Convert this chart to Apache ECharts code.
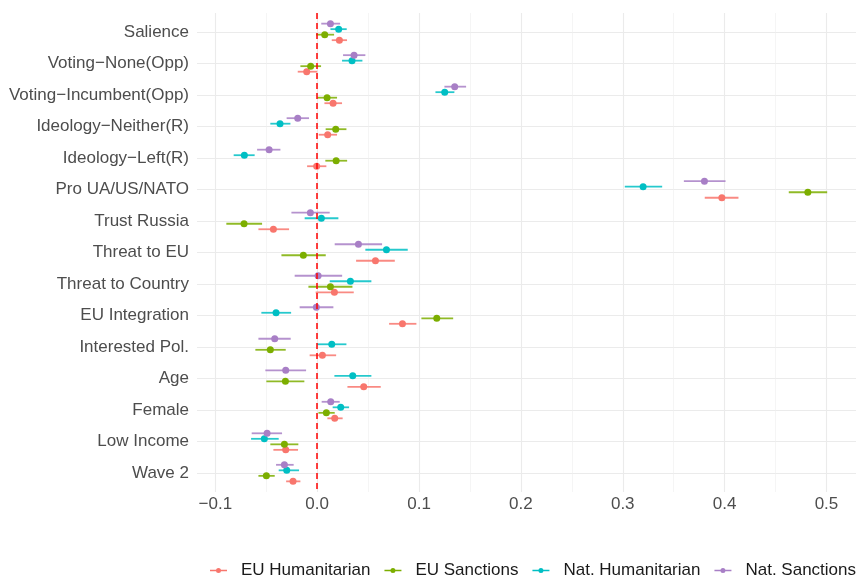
<!DOCTYPE html>
<html>
<head>
<meta charset="utf-8">
<script src="https://cdn.jsdelivr.net/npm/echarts@6/dist/echarts.min.js"></script>
<style>
html,body{margin:0;padding:0;background:#fff;}
#chart{width:859px;height:578px;}
</style>
</head>
<body>
<div id="chart"></div>
<script>
const categories = ['Salience','Voting\u2212None(Opp)','Voting\u2212Incumbent(Opp)','Ideology\u2212Neither(R)','Ideology\u2212Left(R)','Pro UA/US/NATO','Trust Russia','Threat to EU','Threat to Country','EU Integration','Interested Pol.','Age','Female','Low Income','Wave 2'];

const seriesNames = ['EU Humanitarian','EU Sanctions','Nat. Humanitarian','Nat. Sanctions'];
const seriesColors = ['#F8766D','#7CAE00','#00BFC4','#A87FC6'];

const euHumEst = [0.0218,-0.0103,0.0156,0.0103,-0.0005,0.3973,-0.0430,0.0572,0.0169,0.0837,0.0051,0.0457,0.0172,-0.0309,-0.0237];
const euHumLo  = [0.0143,-0.0191,0.0071,0.0015,-0.0099,0.3805,-0.0577,0.0382,-0.0015,0.0706,-0.0074,0.0297,0.0100,-0.0430,-0.0305];
const euHumHi  = [0.0293,0.0000,0.0244,0.0195,0.0090,0.4136,-0.0276,0.0762,0.0359,0.0974,0.0186,0.0624,0.0250,-0.0188,-0.0165];

const euSanEst = [0.0074,-0.0064,0.0097,0.0182,0.0186,0.4817,-0.0718,-0.0136,0.0130,0.1174,-0.0460,-0.0312,0.0090,-0.0322,-0.0499];
const euSanLo  = [-0.0010,-0.0165,0.0000,0.0083,0.0080,0.4630,-0.0892,-0.0351,-0.0086,0.1023,-0.0607,-0.0499,0.0012,-0.0460,-0.0577];
const euSanHi  = [0.0166,0.0038,0.0195,0.0287,0.0294,0.5007,-0.0541,0.0084,0.0346,0.1335,-0.0309,-0.0126,0.0172,-0.0185,-0.0417];

const natHumEst = [0.0211,0.0342,0.1252,-0.0365,-0.0715,0.3200,0.0041,0.0680,0.0326,-0.0404,0.0143,0.0349,0.0231,-0.0519,-0.0299];
const natHumLo  = [0.0130,0.0244,0.1161,-0.0460,-0.0820,0.3020,-0.0123,0.0473,0.0123,-0.0548,0.0000,0.0169,0.0152,-0.0649,-0.0378];
const natHumHi  = [0.0290,0.0444,0.1347,-0.0263,-0.0614,0.3387,0.0208,0.0889,0.0532,-0.0256,0.0287,0.0532,0.0313,-0.0378,-0.0178];

const natSanEst = [0.0130,0.0362,0.1350,-0.0191,-0.0472,0.3802,-0.0067,0.0405,0.0009,-0.0008,-0.0417,-0.0309,0.0133,-0.0492,-0.0322];
const natSanLo  = [0.0040,0.0254,0.1249,-0.0300,-0.0590,0.3600,-0.0253,0.0172,-0.0221,-0.0172,-0.0577,-0.0509,0.0044,-0.0643,-0.0404];
const natSanHi  = [0.0225,0.0473,0.1462,-0.0080,-0.0361,0.4009,0.0123,0.0637,0.0245,0.0159,-0.0260,-0.0109,0.0221,-0.0345,-0.0231];

const xTickValues = [-0.1,0,0.1,0.2,0.3,0.4,0.5];

const ests = [euHumEst, euSanEst, natHumEst, natSanEst];
const los = [euHumLo, euSanLo, natHumLo, natSanLo];
const his = [euHumHi, euSanHi, natHumHi, natSanHi];
const dodge = [0.2625, 0.0875, -0.0875, -0.2625];

const FONT = 'Liberation Sans, Arial, sans-serif';
const catTicks = categories.map((c, i) => i);

const chart = echarts.init(document.getElementById('chart'), null, {renderer: 'canvas'});

const series = seriesNames.map((name, s) => ({
  name: name,
  type: 'custom',
  coordinateSystem: 'cartesian2d',
  encode: {x: [1, 2, 3], y: 0},
  data: categories.map((c, i) => [i + dodge[s], ests[s][i], los[s][i], his[s][i]]),
  itemStyle: {color: seriesColors[s]},
  renderItem: function (params, api) {
    const y = api.value(0);
    const pEst = api.coord([api.value(1), y]);
    const pLo = api.coord([api.value(2), y]);
    const pHi = api.coord([api.value(3), y]);
    return {
      type: 'group',
      children: [
        {type: 'line', shape: {x1: pLo[0], y1: pLo[1], x2: pHi[0], y2: pHi[1]},
         style: {stroke: seriesColors[s], lineWidth: 1.8, opacity: 0.85}},
        {type: 'circle', shape: {cx: pEst[0], cy: pEst[1], r: 3.5},
         style: {fill: seriesColors[s]}}
      ]
    };
  },
  z: 3
}));

series.push({
  name: 'zero',
  type: 'line',
  data: [],
  markLine: {
    silent: true,
    symbol: ['none', 'none'],
    label: {show: false},
    lineStyle: {color: '#FF0000', type: [6, 4], width: 1.5},
    data: [{xAxis: 0}]
  },
  z: 4
});

const legendIcon = 'path://M0,2.3H17V3.7H0Z M11,3A2.5,2.5,0,1,1,6,3A2.5,2.5,0,1,1,11,3Z';

chart.setOption({
  animation: false,
  backgroundColor: '#ffffff',
  grid: {left: 197, right: 3, top: 13, bottom: 86, containLabel: false},
  xAxis: {
    type: 'value',
    min: -0.118,
    max: 0.529,
    axisLine: {show: false},
    axisTick: {show: false, customValues: xTickValues},
    axisLabel: {
      customValues: xTickValues,
      margin: 4,
      color: '#4D4D4D',
      fontSize: 17,
      fontFamily: FONT,
      formatter: function (v) {
        const r = Math.round(v * 10) / 10;
        return (r < 0 ? '\u2212' : '') + Math.abs(r).toFixed(1);
      }
    },
    splitLine: {show: true, lineStyle: {color: '#EBEBEB', width: 1.1}},
    minorTick: {show: false, splitNumber: 2},
    minorSplitLine: {show: true, lineStyle: {color: '#EFEFEF', width: 0.6}}
  },
  yAxis: {
    type: 'value',
    inverse: true,
    min: -0.6,
    max: 14.6,
    axisLine: {show: false},
    axisTick: {show: false, customValues: catTicks},
    axisLabel: {
      customValues: catTicks,
      margin: 8,
      color: '#4D4D4D',
      fontSize: 17,
      fontFamily: FONT,
      formatter: function (v) { return categories[Math.round(v)]; }
    },
    splitLine: {show: true, lineStyle: {color: '#EBEBEB', width: 1.1}}
  },
  legend: {
    data: seriesNames.map((n, i) => ({name: n, icon: legendIcon, itemStyle: {color: seriesColors[i]}})),
    orient: 'horizontal',
    top: 562,
    left: 210,
    right: 0,
    padding: 0,
    itemWidth: 17,
    itemHeight: 6,
    itemGap: 14,
    textStyle: {color: '#1A1A1A', fontSize: 17, fontFamily: FONT, padding: [0, 0, 0, 9]}
  },
  series: series
});
</script>
</body>
</html>
